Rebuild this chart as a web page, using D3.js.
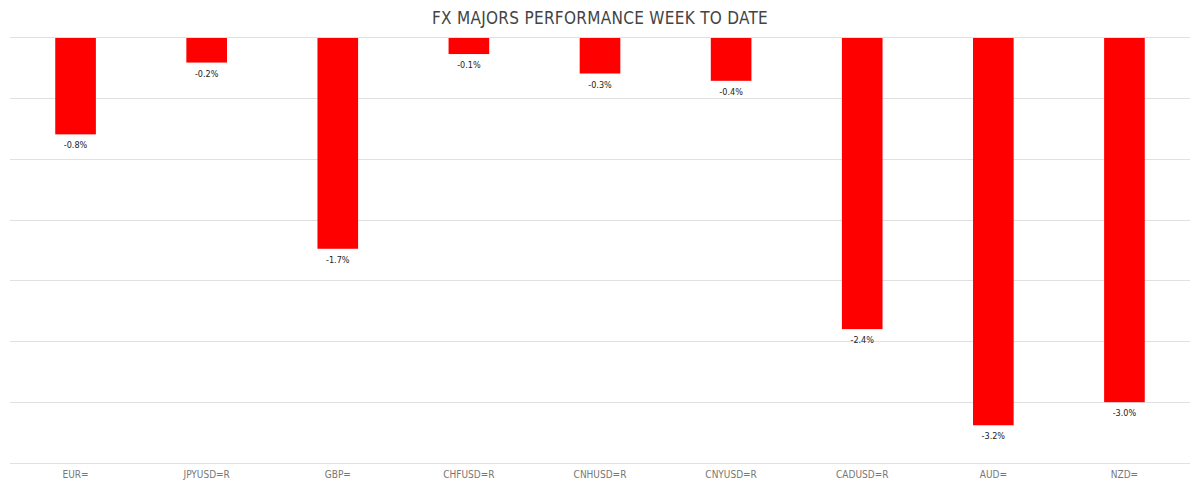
<!DOCTYPE html>
<html>
<head>
<meta charset="utf-8">
<script src="https://cdn.jsdelivr.net/npm/d3@7"></script>
<style>
  body { margin: 0; background: #fff; }
  svg { display: block; }
</style>
</head>
<body>
<div id="chart"></div>
<script>
const pairs = ["EUR=", "JPYUSD=R", "GBP=", "CHFUSD=R", "CNHUSD=R", "CNYUSD=R", "CADUSD=R", "AUD=", "NZD="];
const weekChange = [-0.80, -0.21, -1.74, -0.14, -0.30, -0.36, -2.40, -3.19, -3.00];
const gridTicks = [0, -0.5, -1, -1.5, -2, -2.5, -3, -3.5];

const width = 1200, height = 486;
const font = "'DejaVu Sans Condensed', 'DejaVu Sans', sans-serif";

const svg = d3.select("#chart").append("svg")
    .attr("width", width)
    .attr("height", height);

const x = d3.scaleBand()
    .domain(pairs)
    .range([10, 1190])
    .paddingInner(0.69)
    .paddingOuter(0.345);

const y = d3.scaleLinear()
    .domain([-3.5, 0])
    .range([463, 37]);

// title
svg.append("text")
    .attr("x", 600)
    .attr("y", 24)
    .attr("text-anchor", "middle")
    .attr("font-family", font)
    .attr("font-size", 17)
    .attr("letter-spacing", 0.3)
    .attr("fill", "#444")
    .text("FX MAJORS PERFORMANCE WEEK TO DATE");

// gridlines
svg.append("g")
    .selectAll("line")
    .data(gridTicks)
    .join("line")
    .attr("x1", 10)
    .attr("x2", 1190)
    .attr("y1", d => Math.round(y(d)) + 0.5)
    .attr("y2", d => Math.round(y(d)) + 0.5)
    .attr("stroke", "#e0e0e0")
    .attr("stroke-width", 1);

const data = pairs.map((p, i) => ({ pair: p, value: weekChange[i] }));

// bars
svg.append("g")
    .selectAll("rect")
    .data(data)
    .join("rect")
    .attr("x", d => x(d.pair))
    .attr("y", y(0) + 1)
    .attr("width", x.bandwidth())
    .attr("height", d => y(d.value) - y(0) - 1)
    .attr("fill", "#ff0000");

// value labels
svg.append("g")
    .selectAll("text")
    .data(data)
    .join("text")
    .attr("x", d => x(d.pair) + x.bandwidth() / 2)
    .attr("y", d => y(d.value) + 14)
    .attr("text-anchor", "middle")
    .attr("font-family", font)
    .attr("font-size", 9)
    .attr("fill", "#222")
    .text(d => d.value.toFixed(1) + "%");

// x axis labels
const xAxis = d3.axisBottom(x).tickSize(0).tickPadding(8);
const gx = svg.append("g")
    .attr("transform", `translate(0,${y(-3.5)})`)
    .call(xAxis);
gx.select(".domain").remove();
gx.selectAll("text")
    .attr("font-family", font)
    .attr("font-size", 10)
    .attr("fill", "#777");
</script>
</body>
</html>
